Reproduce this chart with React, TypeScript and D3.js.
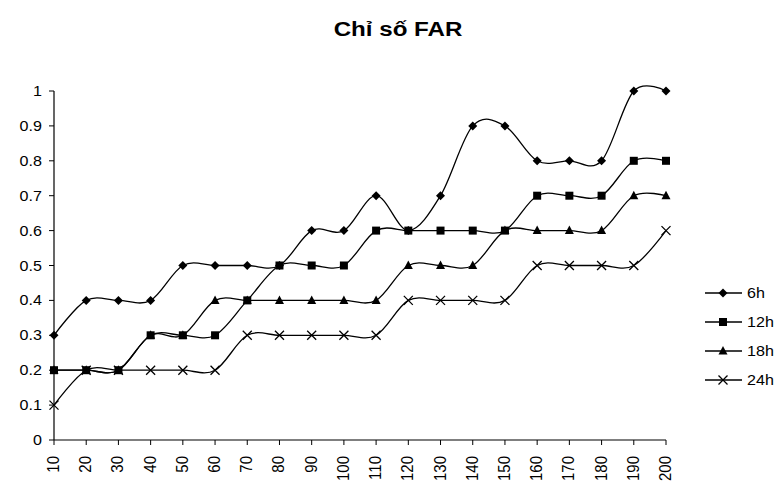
import React from "react";
import * as d3 from "d3";

const categories = [10, 20, 30, 40, 50, 60, 70, 80, 90, 100, 110, 120, 130, 140, 150, 160, 170, 180, 190, 200];
const s6h = [0.3, 0.4, 0.4, 0.4, 0.5, 0.5, 0.5, 0.5, 0.6, 0.6, 0.7, 0.6, 0.7, 0.9, 0.9, 0.8, 0.8, 0.8, 1.0, 1.0];
const s12h = [0.2, 0.2, 0.2, 0.3, 0.3, 0.3, 0.4, 0.5, 0.5, 0.5, 0.6, 0.6, 0.6, 0.6, 0.6, 0.7, 0.7, 0.7, 0.8, 0.8];
const s18h = [0.2, 0.2, 0.2, 0.3, 0.3, 0.4, 0.4, 0.4, 0.4, 0.4, 0.4, 0.5, 0.5, 0.5, 0.6, 0.6, 0.6, 0.6, 0.7, 0.7];
const s24h = [0.1, 0.2, 0.2, 0.2, 0.2, 0.2, 0.3, 0.3, 0.3, 0.3, 0.3, 0.4, 0.4, 0.4, 0.4, 0.5, 0.5, 0.5, 0.5, 0.6];
const seriesNames = ["6h", "12h", "18h", "24h"];
const yTicks = [0, 0.1, 0.2, 0.3, 0.4, 0.5, 0.6, 0.7, 0.8, 0.9, 1];
const title = "Chỉ số FAR";

const W = 780;
const H = 487;
const font = "'Liberation Sans', Arial, sans-serif";
// glyphs are drawn slightly wide
const SX = 1.15;

function Marker({ kind, x, y }: { kind: number; x: number; y: number }) {
  const s = 4.5;
  if (kind === 0) {
    return <path d={`M${x},${y - s}L${x + s},${y}L${x},${y + s}L${x - s},${y}Z`} fill="#000" />;
  }
  if (kind === 1) {
    return <rect x={x - 4} y={y - 4} width={8} height={8} fill="#000" />;
  }
  if (kind === 2) {
    return <path d={`M${x},${y - 5}L${x + 4.5},${y + 3.5}L${x - 4.5},${y + 3.5}Z`} fill="#000" />;
  }
  return (
    <path
      d={`M${x - 4.5},${y - 4.5}L${x + 4.5},${y + 4.5}M${x + 4.5},${y - 4.5}L${x - 4.5},${y + 4.5}`}
      stroke="#000"
      strokeWidth={1.3}
      fill="none"
    />
  );
}

export default function App() {
  const series = [s6h, s12h, s18h, s24h];
  const x = d3
    .scaleLinear()
    .domain([categories[0], categories[categories.length - 1]])
    .range([54, 666]);
  const y = d3.scaleLinear().domain([0, 1]).range([440, 91]);

  const line = d3
    .line<number>()
    .x((_, i) => x(categories[i]))
    .y((d) => y(d))
    .curve(d3.curveCardinal.tension(0));

  const legendY = [293, 322, 351, 380];

  return (
    <svg width={W} height={H} style={{ position: "absolute", left: 0, top: 0, background: "#fff" }}>
      <rect width={W} height={H} fill="#fff" />
      <text
        transform={`translate(398,36) scale(${SX},1)`}
        textAnchor="middle"
        fontFamily={font}
        fontWeight="bold"
        fontSize={21}
      >
        {title}
      </text>

      {/* y axis */}
      <line x1={x(10)} x2={x(10)} y1={y(1)} y2={y(0)} stroke="#000" strokeWidth={1.2} />
      {yTicks.map((t) => (
        <g key={t}>
          <line x1={x(10) - 5} x2={x(10)} y1={y(t)} y2={y(t)} stroke="#000" strokeWidth={1} />
          <text
            transform={`translate(42,${y(t) + 5}) scale(${SX},1)`}
            textAnchor="end"
            fontFamily={font}
            fontSize={14}
          >
            {t}
          </text>
        </g>
      ))}

      {/* x axis */}
      <line x1={x(10)} x2={x(200)} y1={y(0)} y2={y(0)} stroke="#000" strokeWidth={1.2} />
      {categories.map((c) => (
        <g key={c}>
          <line x1={x(c)} x2={x(c)} y1={y(0)} y2={y(0) + 5} stroke="#000" strokeWidth={1} />
          <text
            transform={`translate(${x(c) + 5},456) rotate(-90) scale(1,${SX})`}
            textAnchor="end"
            fontFamily={font}
            fontSize={15}
          >
            {c}
          </text>
        </g>
      ))}

      {/* series */}
      {series.map((vals, si) => (
        <g key={si}>
          <path d={line(vals) ?? ""} fill="none" stroke="#000" strokeWidth={1.3} />
          {vals.map((v, i) => (
            <Marker key={i} kind={si} x={x(categories[i])} y={y(v)} />
          ))}
        </g>
      ))}

      {/* legend */}
      {seriesNames.map((name, i) => (
        <g key={name}>
          <line x1={705} x2={742} y1={legendY[i]} y2={legendY[i]} stroke="#000" strokeWidth={1.3} />
          <Marker kind={i} x={723} y={legendY[i]} />
          <text
            transform={`translate(747,${legendY[i] + 5}) scale(${SX},1)`}
            fontFamily={font}
            fontSize={14}
          >
            {name}
          </text>
        </g>
      ))}
    </svg>
  );
}
